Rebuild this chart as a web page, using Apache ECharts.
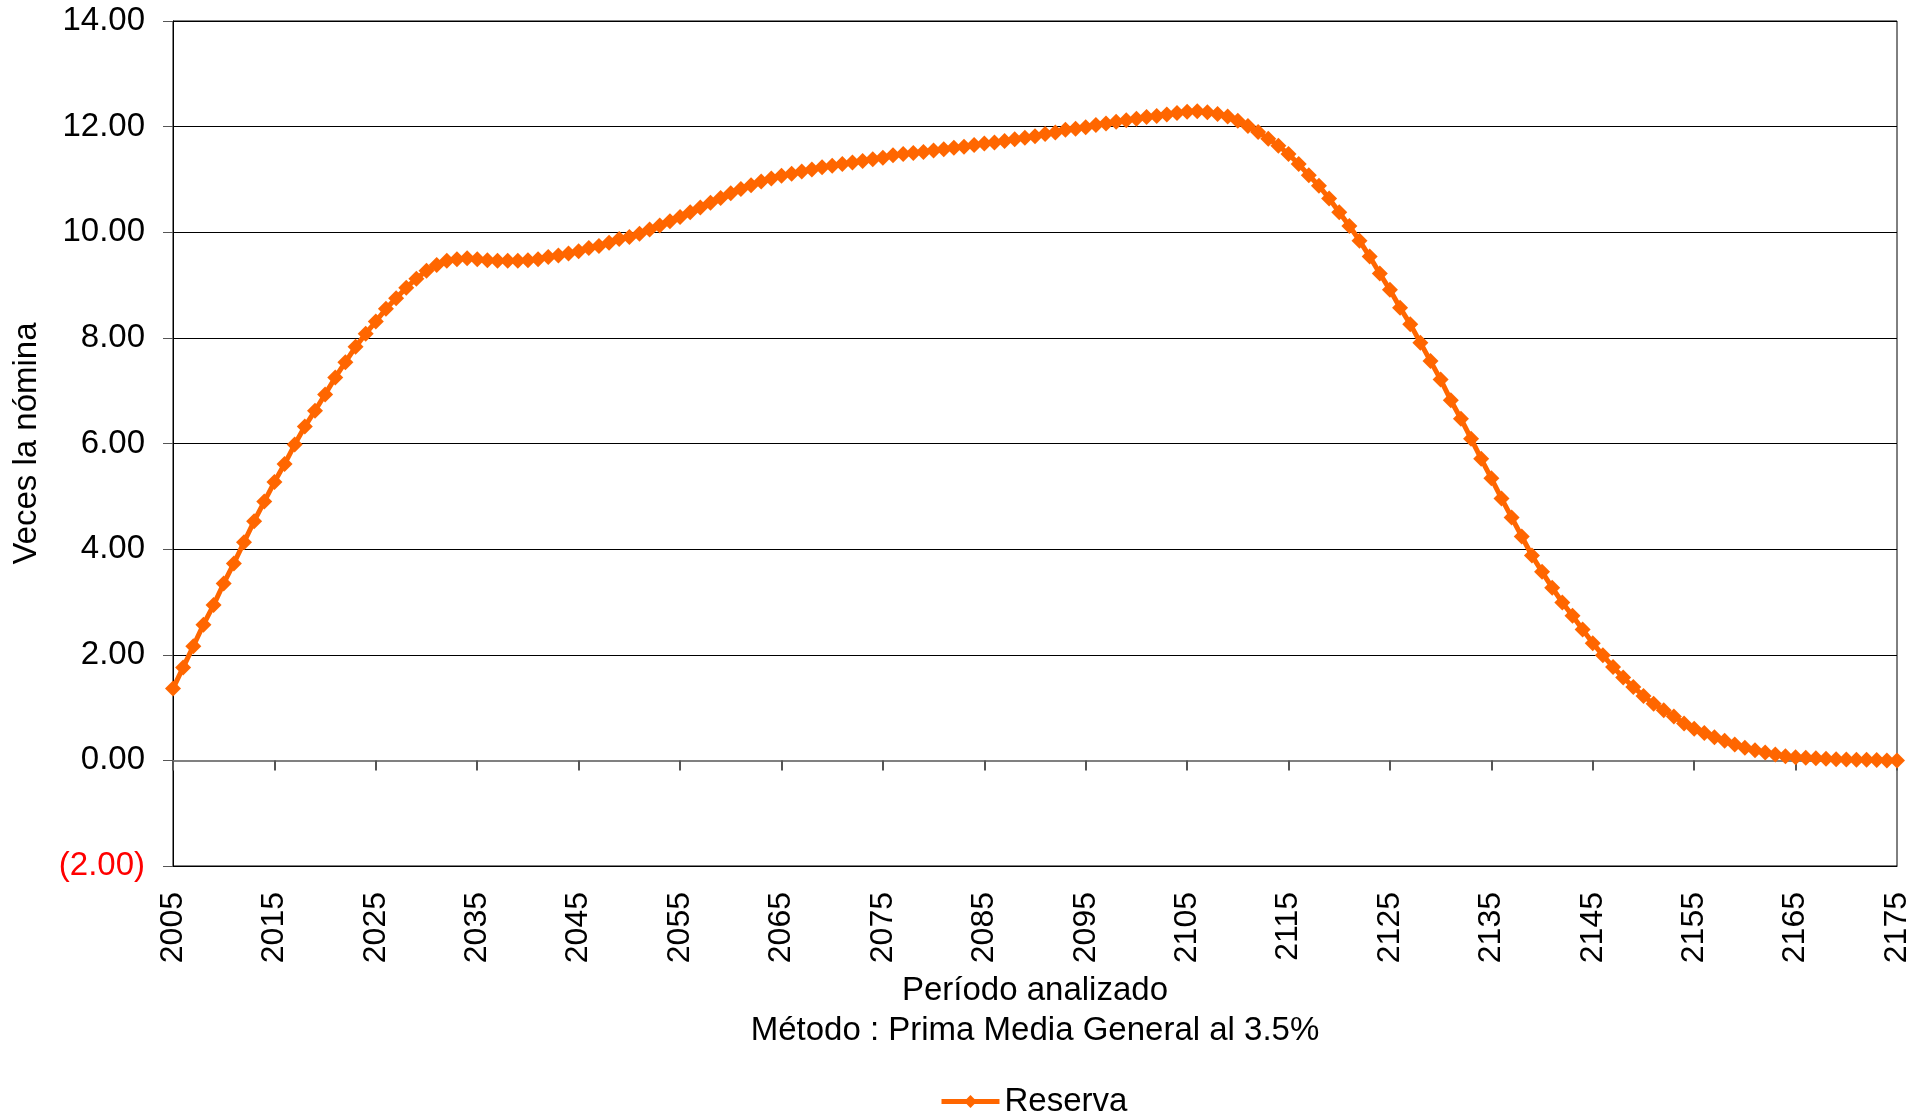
<!DOCTYPE html>
<html>
<head>
<meta charset="utf-8">
<title>Reserva</title>
<script src="https://cdn.jsdelivr.net/npm/echarts@6/dist/echarts.min.js"></script>
<style>
  html, body { margin: 0; padding: 0; background: #fff; }
  #chart { width: 1925px; height: 1116px; }
</style>
</head>
<body>
<div id="chart"></div>
<script>
// años 2005 - 2175
const years = [];
for (let y = 2005; y <= 2175; y++) years.push(String(y));

// reserva en veces la nómina
const reserva = [
  1.36, 1.76, 2.16, 2.57, 2.94, 3.35, 3.73, 4.13, 4.53, 4.90,   // 2005-2014
  5.27, 5.61, 5.98, 6.32, 6.62, 6.93, 7.25, 7.54, 7.83, 8.08,   // 2015-2024
  8.31, 8.55, 8.75, 8.95, 9.12, 9.27, 9.38, 9.46, 9.49, 9.51,   // 2025-2034
  9.49, 9.47, 9.46, 9.46, 9.46, 9.47, 9.49, 9.53, 9.56, 9.60,   // 2035-2044
  9.64, 9.70, 9.74, 9.80, 9.87, 9.91, 9.97, 10.05, 10.13, 10.21, // 2045-2054
  10.29, 10.38, 10.47, 10.56, 10.65, 10.74, 10.82, 10.89, 10.96, 11.02, // 2055-2064
  11.07, 11.11, 11.15, 11.19, 11.23, 11.26, 11.29, 11.32, 11.35, 11.38, // 2065-2074
  11.41, 11.46, 11.48, 11.50, 11.52, 11.55, 11.57, 11.60, 11.62, 11.65, // 2075-2084
  11.68, 11.70, 11.73, 11.76, 11.79, 11.82, 11.86, 11.89, 11.94, 11.96, // 2085-2094
  11.99, 12.03, 12.06, 12.09, 12.12, 12.15, 12.18, 12.20, 12.23, 12.26, // 2095-2104
  12.28, 12.29, 12.27, 12.24, 12.19, 12.11, 12.01, 11.90, 11.77, 11.64, // 2105-2114
  11.48, 11.29, 11.08, 10.88, 10.64, 10.38, 10.12, 9.84, 9.54, 9.22,   // 2115-2124
  8.91, 8.57, 8.26, 7.91, 7.56, 7.21, 6.82, 6.47, 6.09, 5.71,         // 2125-2134
  5.34, 4.96, 4.60, 4.24, 3.88, 3.57, 3.27, 2.99, 2.74, 2.48,         // 2135-2144
  2.22, 1.99, 1.77, 1.57, 1.39, 1.22, 1.07, 0.95, 0.83, 0.70,         // 2145-2154
  0.60, 0.52, 0.44, 0.37, 0.30, 0.24, 0.19, 0.15, 0.11, 0.08,         // 2155-2164
  0.06, 0.05, 0.04, 0.03, 0.02, 0.015, 0.01, 0.01, 0.005, 0.0,        // 2165-2174
  0.0                                                                  // 2175
];

const yMin = -2;
const yMax = 14;
const yStep = 2;

const font = 'Arial, "Liberation Sans", sans-serif';
const fs = 33;

const chart = echarts.init(document.getElementById('chart'));
chart.setOption({
  animation: false,
  backgroundColor: '#fff',
  textStyle: { fontFamily: font, color: '#000' },
  grid: {
    left: 173,
    right: 28,
    top: 21,
    bottom: 250,
    show: true,
    borderColor: '#000',
    borderWidth: 1,
    backgroundColor: 'transparent'
  },
  legend: {
    data: ['Reserva'],
    left: 934,
    top: 1080,
    itemWidth: 58,
    itemHeight: 16,
    itemGap: 10,
    selectedMode: false,
    lineStyle: { width: 5 },
    textStyle: { fontSize: fs, color: '#000', fontFamily: font }
  },
  xAxis: [
    {
      // etiquetas abajo del área
      type: 'category',
      data: years,
      boundaryGap: false,
      position: 'bottom',
      axisLine: { onZero: false, lineStyle: { color: '#000', width: 1 } },
      axisTick: { show: false },
      axisLabel: {
        interval: 9,
        rotate: 90,
        margin: 26,
        fontSize: 32,
        color: '#000',
        fontFamily: font
      },
      splitLine: { show: false },
      name: 'Período analizado\nMétodo : Prima Media General al 3.5%',
      nameLocation: 'middle',
      nameGap: 102,
      nameTextStyle: { fontSize: fs, color: '#000', lineHeight: 40, fontFamily: font }
    },
    {
      // línea del cero con marcas
      type: 'category',
      data: years,
      boundaryGap: false,
      position: 'bottom',
      axisLine: { onZero: true, lineStyle: { color: '#808080', width: 2 } },
      axisTick: { show: true, interval: 9, length: 10, inside: false, lineStyle: { color: '#555', width: 2 } },
      axisLabel: { show: false },
      splitLine: { show: false }
    }
  ],
  yAxis: {
    type: 'value',
    min: yMin,
    max: yMax,
    interval: yStep,
    axisLine: { show: true, onZero: false, lineStyle: { color: '#000', width: 1 } },
    axisTick: { show: true, length: 10, lineStyle: { color: '#555', width: 1 } },
    splitLine: { show: true, lineStyle: { color: '#000', width: 1 } },
    axisLabel: {
      margin: 28,
      fontSize: fs,
      fontFamily: font,
      formatter: (v) => v < 0 ? '(' + Math.abs(v).toFixed(2) + ')' : v.toFixed(2),
      color: (v) => Number(v) < 0 ? '#FF0000' : '#000'
    },
    name: 'Veces la nómina',
    nameLocation: 'middle',
    nameGap: 130,
    nameTextStyle: { fontSize: fs, color: '#000', fontFamily: font }
  },
  series: [
    {
      name: 'Reserva',
      type: 'line',
      xAxisIndex: 0,
      data: reserva,
      color: '#FF6600',
      lineStyle: { color: '#FF6600', width: 5 },
      itemStyle: { color: '#FF6600' },
      symbol: 'diamond',
      symbolSize: 16,
      showAllSymbol: true,
      z: 5
    }
  ]
});
</script>
</body>
</html>
